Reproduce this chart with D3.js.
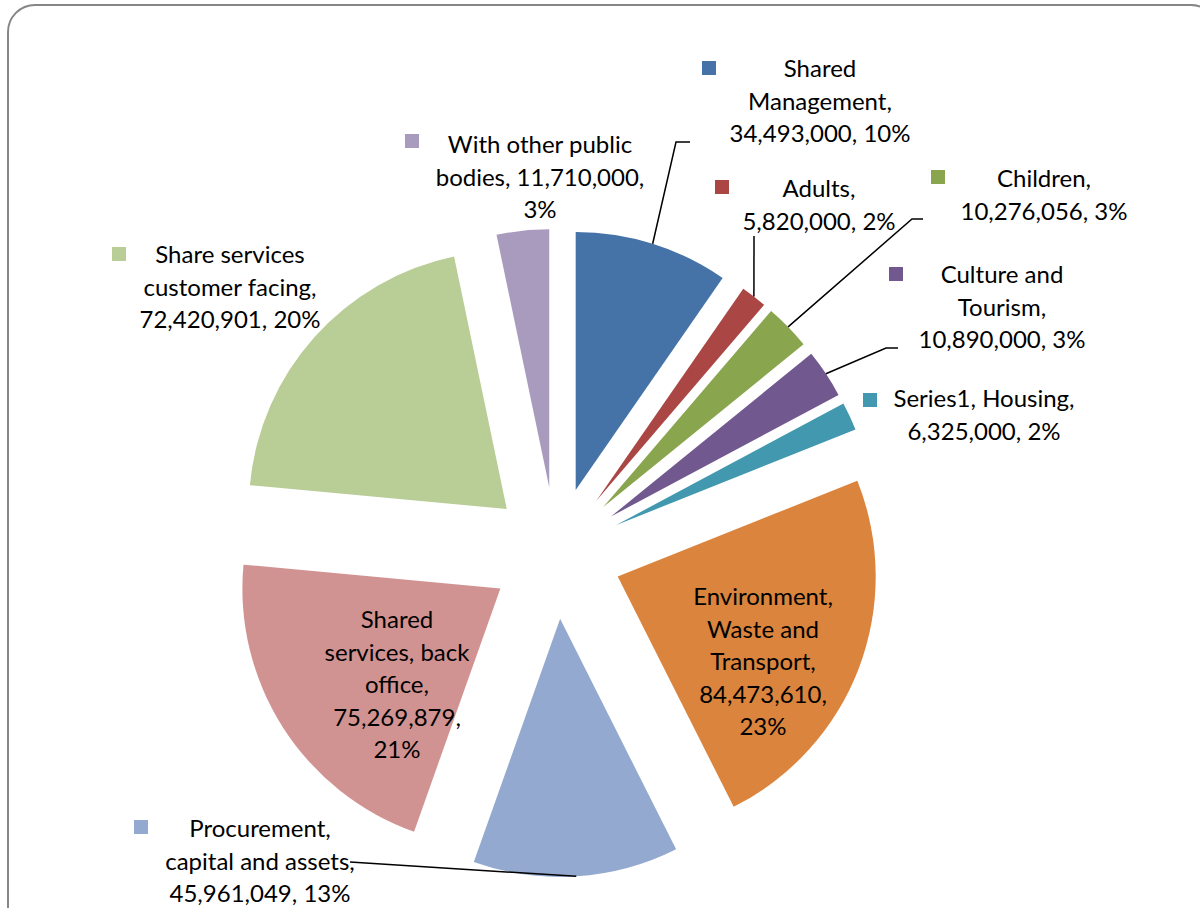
<!DOCTYPE html>
<html>
<head>
<meta charset="utf-8">
<script src="https://cdn.jsdelivr.net/npm/d3@7/dist/d3.min.js"></script>
<style>
  html, body { margin: 0; padding: 0; background: #ffffff; }
  svg { display: block; }
  text { font-family: Lato, "Open Sans", sans-serif; fill: #000; }
</style>
</head>
<body>
<svg id="chart" width="1200" height="908"></svg>
<script>
// ---------- data ----------
const seriesName = "Series1";
const categories = [
  "Shared Management", "Adults", "Children", "Culture and Tourism", "Housing",
  "Environment, Waste and Transport", "Procurement, capital and assets",
  "Shared services, back office", "Share services customer facing",
  "With other public bodies"
];
const values = [
  34493000, 5820000, 10276056, 10890000, 6325000,
  84473610, 45961049, 75269879, 72420901, 11710000
];
const percentLabels = ["10%", "2%", "3%", "3%", "2%", "23%", "13%", "21%", "20%", "3%"];
const colors = [
  "#4572A7", "#AA4643", "#89A54E", "#71588F", "#4198AF",
  "#DB843D", "#93A9CF", "#D19392", "#B9CD96", "#A99BBD"
];

// ---------- layout (positions/styles only) ----------
const W = 1200, H = 908;
const cx = 556, cy = 553, R = 258, explode = 66;
const lineH = 32.5;
// words per line, label centre x, first baseline y, legend key, leader path end points
const labelLayout = [
  { words: [1, 1, 2],       x: 820,  y: 77,  key: [702, 61],  leader: [[676, 142], [690, 142]] },
  { words: [1, 2],          x: 819,  y: 197, key: [715, 180], leader: [[754, 236]] },
  { words: [1, 2],          x: 1044, y: 187, key: [931, 170], leader: [[912, 219], [923, 219]] },
  { words: [2, 1, 2],       x: 1002, y: 283, key: [889, 267], leader: [[886, 348], [898, 348]] },
  { words: [2, 2],          x: 984,  y: 407, key: [863, 393], leader: null, series: true },
  { words: [1, 2, 1, 1, 1], x: 763,  y: 605, key: null,       leader: null },
  { words: [1, 3, 2],       x: 260,  y: 837, key: [134, 820], leader: [[350, 862]] },
  { words: [1, 2, 1, 1, 1], x: 397,  y: 628, key: null,       leader: null },
  { words: [2, 2, 2],       x: 230,  y: 263, key: [112, 247], leader: null },
  { words: [3, 2, 1],       x: 540,  y: 153, key: [405, 134], leader: null }
];
const keySize = 14;
const fontSize = 24;

const svg = d3.select("#chart");

// frame
svg.append("rect")
  .attr("x", 8).attr("y", 5).attr("width", 1210).attr("height", 930)
  .attr("rx", 27).attr("ry", 27)
  .attr("fill", "#fff").attr("stroke", "#868686").attr("stroke-width", 2);

const data = categories.map((c, i) => ({ name: c, value: values[i], pct: percentLabels[i], color: colors[i], layout: labelLayout[i] }));

const pie = d3.pie().sort(null).value(d => d.value).startAngle(0).endAngle(2 * Math.PI);
const arcs = pie(data);
const arc = d3.arc().innerRadius(0).outerRadius(R);

const g = svg.append("g").attr("transform", `translate(${cx},${cy})`);

function offset(a) {
  const mid = (a.startAngle + a.endAngle) / 2;
  return [explode * Math.sin(mid), -explode * Math.cos(mid)];
}

g.selectAll("path.slice")
  .data(arcs)
  .join("path")
  .attr("class", "slice")
  .attr("d", arc)
  .attr("fill", d => d.data.color)
  .attr("transform", d => { const o = offset(d); return `translate(${o[0]},${o[1]})`; });

// leader lines
arcs.forEach(a => {
  const L = a.data.layout;
  if (!L.leader) return;
  const mid = (a.startAngle + a.endAngle) / 2;
  const rr = R + explode;
  const start = [cx + rr * Math.sin(mid), cy - rr * Math.cos(mid)];
  const pts = [start].concat(L.leader);
  svg.append("path")
    .attr("d", d3.line()(pts))
    .attr("fill", "none")
    .attr("stroke", "#000")
    .attr("stroke-width", 1.5);
});

// labels
const fmt = d3.format(",");
data.forEach(d => {
  const L = d.layout;
  const full = (L.series ? seriesName + ", " : "") + d.name + ", " + fmt(d.value) + ", " + d.pct;
  const words = full.split(" ");
  const lines = [];
  let idx = 0;
  L.words.forEach(n => { lines.push(words.slice(idx, idx + n).join(" ")); idx += n; });
  const t = svg.append("text")
    .attr("text-anchor", "middle")
    .style("font-size", fontSize + "px");
  lines.forEach((ln, i) => {
    t.append("tspan").attr("x", L.x).attr("y", L.y + i * lineH).text(ln);
  });
  if (L.key) {
    svg.append("rect")
      .attr("x", L.key[0]).attr("y", L.key[1])
      .attr("width", keySize).attr("height", keySize)
      .attr("fill", d.color);
  }
});
</script>
</body>
</html>
